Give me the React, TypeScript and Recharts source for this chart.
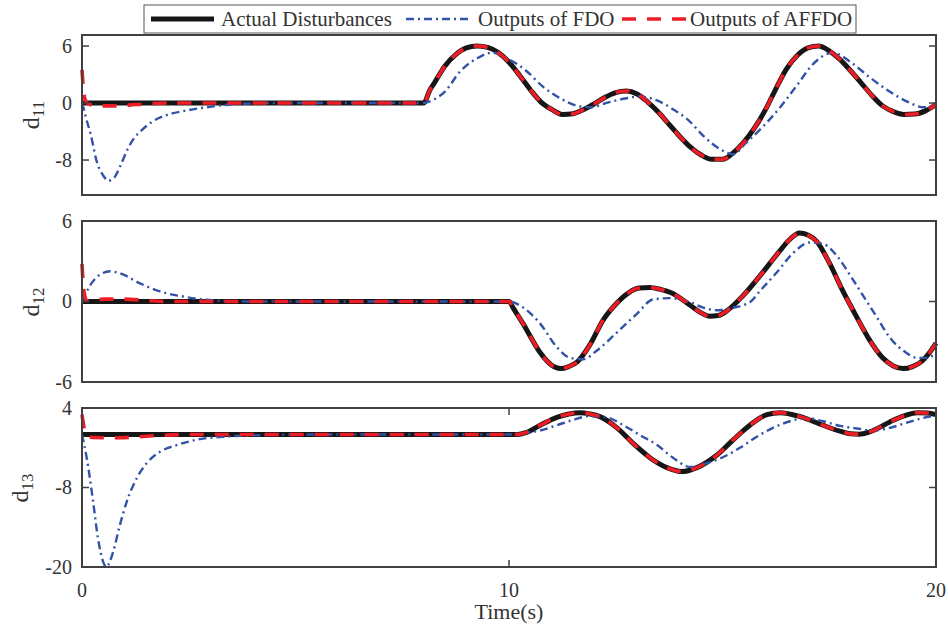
import React from 'react';
import { LineChart, Line, XAxis, YAxis } from 'recharts';

type Pt = [number, number];

const FONT = '"Liberation Serif", "Times New Roman", serif';
const AXIS = '#404040';
const TEXT = '#333333';
const C_ACTUAL = '#161616';
const C_FDO = '#3253a8';
const C_AFFDO = '#ee1d25';

const W = 948;
const PLOT_LEFT = 82;
const PLOT_RIGHT = 936;

const timeTicks = [0, 10, 20];

// d11 (y axis of this panel is drawn 6 / 0 / -8 at equal spacing)
const d11Ticks = [6, 0, -8];
const d11Actual: Pt[] = [
    [0, 0], [8, 0], [8.15, 1.4], [8.25, 2.1], [8.5, 3.9], [8.75, 5.1], [9, 5.8], [9.25, 6], [9.5, 5.85],
    [9.75, 5.3], [10, 4.3], [10.25, 2.9], [10.5, 1.4], [10.75, 0.1], [11, -0.9], [11.25, -1.6], [11.5, -1.5],
    [11.75, -0.9], [12, -0.1], [12.25, 0.6], [12.5, 1.1], [12.75, 1.26], [13, 0.95], [13.25, 0.1], [13.5, -1.3],
    [13.75, -3.0], [14, -4.7], [14.25, -6.2], [14.5, -7.3], [14.75, -7.9], [15, -7.9], [15.25, -7.0], [15.5, -5.5],
    [15.75, -3.5], [16, -1.0], [16.25, 1.5], [16.5, 3.6], [16.75, 5.0], [17, 5.8], [17.25, 6], [17.5, 5.5],
    [17.75, 4.6], [18, 3.4], [18.25, 2.1], [18.5, 0.8], [18.75, -0.4], [19, -1.2], [19.25, -1.6], [19.5, -1.55],
    [19.75, -1.1], [20, -0.2],
];
const d11Fdo: Pt[] = [
    [0, 0], [0.05, -1.0], [0.1, -2.2], [0.2, -4.3], [0.35, -8.3], [0.5, -10.2], [0.62, -10.9], [0.75, -10.5],
    [0.9, -8.8], [1.05, -6.7], [1.2, -5.1], [1.4, -3.8], [1.6, -2.8], [2, -1.65], [2.4, -1.1], [2.8, -0.7],
    [3.5, -0.2], [4.5, 0], [8, 0], [8.1, 0.1], [8.25, 0.4], [8.5, 1.2], [8.85, 3.3], [9.25, 4.7], [9.6, 5.3],
    [10, 4.6], [10.4, 3.4], [10.8, 1.7], [11.2, 0.5], [11.6, -0.4], [11.9, -0.6], [12.35, 0.1], [12.75, 0.5],
    [13.05, 0.7], [13.45, 0.3], [13.9, -1.1], [14.2, -2.4], [14.55, -4.6], [14.95, -6.5], [15.25, -7.2],
    [15.55, -5.6], [15.95, -3.3], [16.35, -0.6], [16.75, 1.9], [17.1, 4.0], [17.6, 5.3], [18, 4.3], [18.45, 2.7],
    [18.85, 1.4], [19.4, 0], [19.7, -0.6], [20, -0.3],
];
const d11AffdoStart: Pt[] = [
    [0, 3.5], [0.05, 0.8], [0.1, 0.1], [0.2, -0.25], [0.4, -0.4], [0.8, -0.4], [1.1, -0.3], [1.5, -0.12], [2, 0], [8, 0],
];

// d12
const d12Ticks = [6, 0, -6];
const d12Actual: Pt[] = [
    [0, 0], [10, 0], [10.1, -0.5], [10.33, -1.65], [10.5, -2.6], [10.75, -3.9], [11, -4.75], [11.2, -5.0],
    [11.4, -4.85], [11.6, -4.5], [11.9, -3.2], [12.2, -1.4], [12.5, -0.2], [12.8, 0.65], [13.05, 1.0], [13.3, 1.05],
    [13.55, 0.9], [13.8, 0.65], [14.25, -0.3], [14.5, -0.85], [14.7, -1.1], [14.9, -1.05], [15.1, -0.7], [15.5, 0.5],
    [15.9, 2.0], [16.3, 3.6], [16.6, 4.7], [16.8, 5.1], [17, 4.95], [17.2, 4.5], [17.5, 2.9], [17.8, 0.9],
    [18.15, -1.2], [18.45, -2.9], [18.75, -4.2], [19, -4.8], [19.23, -5.0], [19.45, -4.85], [19.65, -4.5],
    [19.85, -3.8], [20, -3.1],
];
const d12Fdo: Pt[] = [
    [0, 0], [0.19, 1.2], [0.42, 2.0], [0.66, 2.25], [0.89, 2.1], [1.36, 1.35], [1.83, 0.75], [2.37, 0.37],
    [3.16, 0.07], [4, 0], [10, 0], [10.33, -0.45], [10.73, -1.65], [11.12, -3.4], [11.43, -4.2], [11.74, -4.3],
    [12.06, -3.65], [12.53, -2.3], [13, -0.9], [13.37, 0.15], [13.77, 0.25], [14.24, -0.05], [14.55, -0.45],
    [14.87, -0.65], [15.18, -0.5], [15.64, -0.05], [15.88, 0.8], [16.28, 2.2], [16.65, 3.6], [17.05, 4.4],
    [17.35, 4.3], [17.68, 3.4], [17.99, 1.95], [18.29, 0.45], [18.62, -1.2], [18.92, -2.7], [19.23, -3.65],
    [19.56, -4.2], [19.8, -4.2], [20, -3.8],
];
const d12AffdoStart: Pt[] = [
    [0, 2.8], [0.03, 1.2], [0.06, 0.5], [0.1, 0.1], [0.2, 0.05], [0.5, 0.18], [1, 0.18], [1.5, 0.08], [2, 0], [10, 0],
];

// d13
const d13Ticks = [4, -8, -20];
const d13Actual: Pt[] = [
    [0, 0], [10.2, 0], [10.4, 0.3], [10.73, 1.4], [11.12, 2.6], [11.4, 3.1], [11.66, 3.3], [11.9, 3.1],
    [12.13, 2.7], [12.53, 1.0], [12.9, -1.3], [13.3, -3.5], [13.7, -5.0], [14.05, -5.6], [14.4, -5.0],
    [14.87, -3.1], [15.25, -0.8], [15.64, 1.4], [16.04, 3.0], [16.35, 3.3], [16.82, 2.7], [17.35, 1.4],
    [17.75, 0.5], [18, 0.1], [18.2, 0.05], [18.45, 0.4], [18.92, 1.9], [19.25, 2.8], [19.56, 3.3], [19.8, 3.25],
    [20, 3.0],
];
const d13Fdo: Pt[] = [
    [0, 0], [0.11, -3.5], [0.26, -10.1], [0.37, -15.5], [0.5, -19.3], [0.57, -20], [0.65, -19.2], [0.73, -17.7],
    [0.89, -13.6], [1.05, -10.1], [1.29, -6.5], [1.52, -4.3], [1.83, -2.6], [2.22, -1.6], [2.76, -0.7], [3.4, -0.3],
    [4.2, -0.1], [5, 0], [10, 0], [10.3, 0.2], [10.73, 0.6], [11.12, 1.4], [11.5, 2.2], [11.9, 2.8], [12.29, 2.6],
    [12.68, 1.4], [13.07, -0.1], [13.47, -1.6], [13.84, -3.5], [14.24, -4.9], [14.64, -4.3], [15.02, -3.4],
    [15.41, -2.0], [15.81, -0.3], [16.18, 1.0], [16.58, 2.0], [16.98, 2.5], [17.35, 2.0], [17.76, 1.3],
    [18.15, 0.9], [18.52, 0.6], [18.92, 1.0], [19.32, 1.8], [19.7, 2.5], [20, 2.9],
];
const d13AffdoStart: Pt[] = [
    [0, 3.0], [0.05, 1.0], [0.12, -0.2], [0.25, -0.45], [0.8, -0.5], [1.2, -0.4], [1.8, -0.15], [2.5, 0], [10, 0],
];

// the AFFDO output lies on top of the actual disturbance once it has converged
const d11Affdo = [...d11AffdoStart, ...d11Actual.filter(([t]) => t > 8)];
const d12Affdo = [...d12AffdoStart, ...d12Actual.filter(([t]) => t > 10)];
const d13Affdo = [...d13AffdoStart, ...d13Actual.filter(([t]) => t > 10)];

// d11's axis: 0..6 and 0..-8 take the same height
const squash = (v: number) => (v < 0 ? v * 0.75 : v);
const same = (v: number) => v;

const toPts = (arr: Pt[], f: (v: number) => number) => arr.map(([t, v]) => ({ t, v: f(v) }));

interface PanelDef {
    sub: string;
    top: number;
    height: number;
    mt: number;
    mb: number;
    domain: [number, number];
    ticks: number[];
    map: (v: number) => number;
    actual: Pt[];
    fdo: Pt[];
    affdo: Pt[];
    labelX: number;
    showTime: boolean;
}

const panels: PanelDef[] = [
    { sub: '11', top: 0, height: 210, mt: 35, mb: 15, domain: [-9.68, 7.16], ticks: d11Ticks, map: squash,
        actual: d11Actual, fdo: d11Fdo, affdo: d11Affdo, labelX: 33, showTime: false },
    { sub: '12', top: 200, height: 200, mt: 21, mb: 18, domain: [-6, 6], ticks: d12Ticks, map: same,
        actual: d12Actual, fdo: d12Fdo, affdo: d12Affdo, labelX: 33, showTime: false },
    { sub: '13', top: 390, height: 242, mt: 18, mb: 0, domain: [-20, 4], ticks: d13Ticks, map: same,
        actual: d13Actual, fdo: d13Fdo, affdo: d13Affdo, labelX: 22, showTime: true },
];

function Panel({ p }: { p: PanelDef }) {
    const xAxisH = p.showTime ? 65 : 0;
    const plotTop = p.mt;
    const plotBottom = p.height - p.mb - xAxisH;
    const tickLabels: Record<string, string> = {};
    p.ticks.forEach((t) => (tickLabels[String(p.map(t))] = String(t)));

    const yTick = (props: any) => {
        const { y, payload } = props;
        return (
            <g>
                <line x1={PLOT_LEFT} x2={PLOT_LEFT + 7} y1={y} y2={y} stroke={AXIS} strokeWidth={1.5} />
                <line x1={PLOT_RIGHT - 7} x2={PLOT_RIGHT} y1={y} y2={y} stroke={AXIS} strokeWidth={1.5} />
                <text x={PLOT_LEFT - 10} y={y} dy="0.34em" textAnchor="end" fontSize={20} fontFamily={FONT} fill={TEXT}>
                    {tickLabels[String(payload.value)]}
                </text>
            </g>
        );
    };

    const xTick = (props: any) => {
        const { x, payload } = props;
        return (
            <g>
                <line x1={x} x2={x} y1={plotBottom} y2={plotBottom - 7} stroke={AXIS} strokeWidth={1.5} />
                <line x1={x} x2={x} y1={plotTop} y2={plotTop + 7} stroke={AXIS} strokeWidth={1.5} />
                <text x={x} y={plotBottom + 30} textAnchor="middle" fontSize={20} fontFamily={FONT} fill={TEXT}>
                    {payload.value}
                </text>
            </g>
        );
    };

    return (
        <div style={{ position: 'absolute', left: 0, top: p.top, width: W, height: p.height }}>
            <LineChart width={W} height={p.height} margin={{ top: p.mt, right: W - PLOT_RIGHT, bottom: p.mb, left: PLOT_LEFT - 70 }}>
                <XAxis
                    type="number"
                    dataKey="t"
                    domain={[0, 20]}
                    ticks={timeTicks}
                    hide={!p.showTime}
                    height={xAxisH}
                    axisLine={false}
                    tickLine={false}
                    tick={xTick}
                    interval={0}
                    label={{ value: 'Time(s)', position: 'insideBottom', offset: 13, fontSize: 22, fontFamily: FONT, fill: TEXT }}
                />
                <YAxis
                    type="number"
                    domain={p.domain}
                    ticks={p.ticks.map(p.map)}
                    allowDataOverflow
                    width={70}
                    axisLine={false}
                    tickLine={false}
                    tick={yTick}
                    interval={0}
                />
                <Line data={toPts(p.actual, p.map)} dataKey="v" type="monotone" stroke={C_ACTUAL} strokeWidth={5}
                    dot={false} activeDot={false} isAnimationActive={false} />
                <Line data={toPts(p.fdo, p.map)} dataKey="v" type="monotone" stroke={C_FDO} strokeWidth={2.4}
                    strokeDasharray="8 4 2 4" dot={false} activeDot={false} isAnimationActive={false} />
                <Line data={toPts(p.affdo, p.map)} dataKey="v" type="monotone" stroke={C_AFFDO} strokeWidth={3.6}
                    strokeDasharray="14 11" dot={false} activeDot={false} isAnimationActive={false} />
            </LineChart>
            <div
                style={{
                    position: 'absolute',
                    left: PLOT_LEFT - 1,
                    top: plotTop - 1,
                    width: PLOT_RIGHT - PLOT_LEFT + 2,
                    height: plotBottom - plotTop + 2,
                    border: `2px solid ${AXIS}`,
                    boxSizing: 'border-box',
                    pointerEvents: 'none',
                }}
            />
            <div
                style={{
                    position: 'absolute',
                    left: p.labelX,
                    top: (plotTop + plotBottom) / 2,
                    transform: 'translate(-50%, -50%) rotate(-90deg)',
                    fontFamily: FONT,
                    fontSize: 24,
                    color: TEXT,
                    whiteSpace: 'nowrap',
                    lineHeight: 1,
                }}
            >
                d<sub style={{ fontSize: 17 }}>{p.sub}</sub>
            </div>
        </div>
    );
}

function LegendBox() {
    const y = 19;
    const text = { fontSize: 21, fontFamily: FONT, fill: TEXT };
    return (
        <svg width={W} height={40} style={{ position: 'absolute', left: 0, top: 0 }}>
            <rect x={144} y={5} width={712} height={28} fill="#fff" stroke="#555" strokeWidth={1} />
            <line x1={151} x2={214} y1={y} y2={y} stroke={C_ACTUAL} strokeWidth={5} />
            <text x={221} y={26} {...text}>Actual Disturbances</text>
            <line x1={406} x2={472} y1={y} y2={y} stroke={C_FDO} strokeWidth={2.4} strokeDasharray="8 4 2 4" />
            <text x={478} y={26} {...text}>Outputs of FDO</text>
            <line x1={622} x2={686} y1={y} y2={y} stroke={C_AFFDO} strokeWidth={3.6} strokeDasharray="14 11" />
            <text x={690} y={26} {...text}>Outputs of AFFDO</text>
        </svg>
    );
}

export default function App() {
    return (
        <div style={{ position: 'absolute', left: 0, top: 0, width: W, height: 632, background: '#fff' }}>
            {panels.map((p) => (
                <Panel key={p.sub} p={p} />
            ))}
            <LegendBox />
        </div>
    );
}
